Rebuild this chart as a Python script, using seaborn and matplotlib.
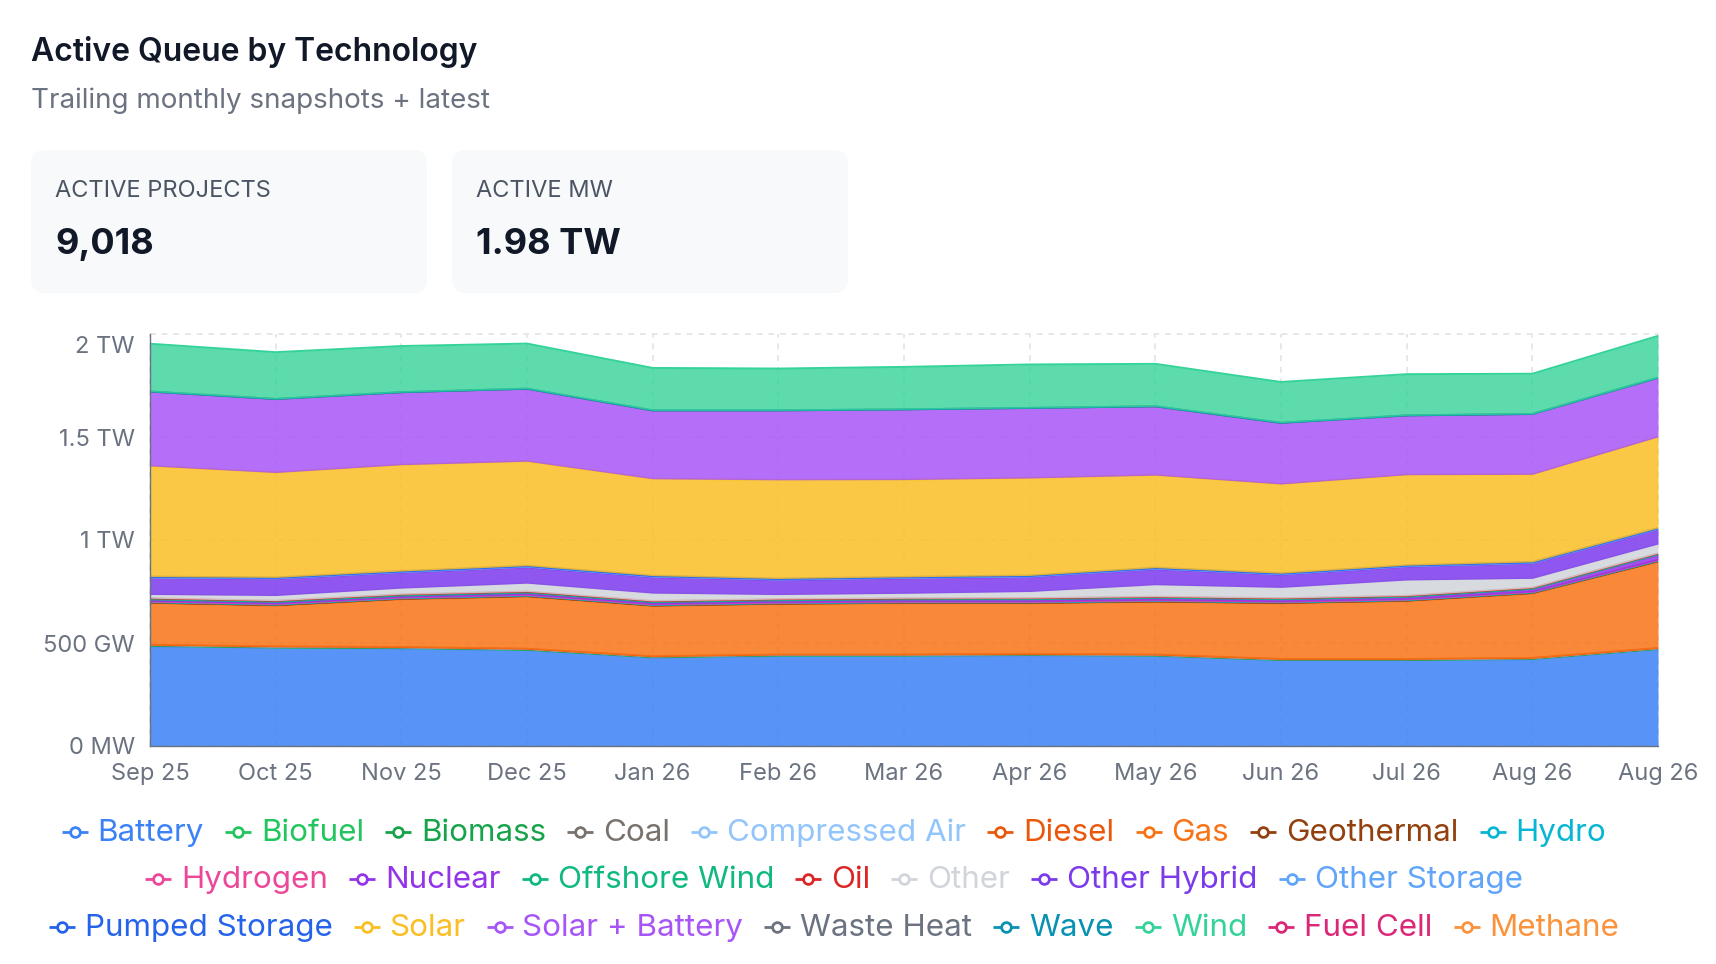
import numpy as np
import pandas as pd
import matplotlib
matplotlib.use("Agg")
import matplotlib.pyplot as plt
import seaborn as sns
import matplotlib.transforms as mtransforms
from matplotlib.patches import FancyBboxPatch
from matplotlib.ticker import FixedLocator, FuncFormatter

# ---------------- data (GW) ----------------
months = ["Sep 25", "Oct 25", "Nov 25", "Dec 25", "Jan 26", "Feb 26", "Mar 26",
          "Apr 26", "May 26", "Jun 26", "Jul 26", "Aug 26", "Aug 26"]

technologies = ["Battery", "Biofuel", "Biomass", "Coal", "Compressed Air", "Diesel",
                "Gas", "Geothermal", "Hydro", "Hydrogen", "Nuclear", "Offshore Wind",
                "Oil", "Other", "Other Hybrid", "Other Storage", "Pumped Storage",
                "Solar", "Solar + Battery", "Waste Heat", "Wave", "Wind",
                "Fuel Cell", "Methane"]

tech_colors = ["#3b82f6", "#22c55e", "#16a34a", "#78716c", "#93c5fd", "#ea580c",
               "#f97316", "#92400e", "#06b6d4", "#ec4899", "#9333ea", "#10b981",
               "#dc2626", "#d1d5db", "#7c3aed", "#60a5fa", "#2563eb",
               "#fbbf24", "#a855f7", "#6b7280", "#0891b2", "#34d399",
               "#db2777", "#fb923c"]

battery        = [485, 477, 474, 466, 430, 438, 438, 441, 438, 417, 417, 422, 470]
biofuel        = [1.2, 1.2, 1.1, 1.1, 1.0, 1.0, 1.0, 1.0, 0.9, 0.9, 0.9, 0.9, 0.9]
biomass        = [2.5, 2.4, 2.4, 2.3, 2.2, 2.2, 2.2, 2.1, 2.1, 2.0, 2.0, 2.0, 2.0]
coal           = [0.6, 0.6, 0.6, 0.6, 0.5, 0.5, 0.5, 0.5, 0.5, 0.5, 0.5, 0.5, 0.5]
compressed_air = [1.5, 1.5, 1.5, 1.5, 1.4, 1.4, 1.4, 1.4, 1.4, 1.4, 1.4, 1.4, 1.4]
diesel         = [0.8, 0.8, 0.8, 0.8, 0.8, 0.8, 0.8, 0.8, 0.8, 0.8, 0.8, 0.8, 0.8]
gas            = [202, 198, 232, 253, 244, 245, 249, 246, 256, 270, 281, 313, 419]
geothermal     = [2.5, 2.5, 2.5, 2.5, 2.4, 2.4, 2.4, 2.4, 2.4, 2.4, 2.4, 2.4, 2.5]
hydro          = [4.0, 4.0, 4.0, 4.0, 3.8, 3.8, 3.8, 3.8, 3.8, 3.8, 3.8, 3.8, 4.0]
hydrogen       = [2.0, 2.0, 2.0, 2.0, 2.0, 2.0, 2.0, 2.0, 2.0, 2.0, 2.0, 2.0, 2.0]
nuclear        = [7, 7, 7, 8, 8, 8, 8, 9, 9, 9, 10, 12, 25]
offshore_wind  = [7.0, 7.0, 7.0, 7.0, 6.5, 6.5, 6.5, 6.5, 6.5, 6.5, 6.5, 6.5, 6.0]
oil            = [1.5, 1.5, 1.5, 1.5, 1.5, 1.5, 1.5, 1.5, 1.5, 1.5, 1.5, 1.5, 1.5]
other          = [18, 25, 30, 40, 38, 22, 24, 32, 58, 52, 76, 45, 45]
other_hybrid   = [80, 81, 76, 78, 78, 71, 73, 71, 76, 62, 65, 73, 71]
other_storage  = [3.0, 3.0, 3.0, 3.0, 3.0, 3.0, 3.0, 3.0, 3.0, 3.0, 3.0, 3.0, 3.0]
pumped_storage = [4.0, 4.0, 4.0, 4.0, 4.0, 4.0, 4.0, 4.0, 4.0, 4.0, 4.0, 4.0, 4.0]
solar          = [537, 509, 516, 507, 470, 479, 472, 473, 449, 433, 439, 425, 442]
solar_battery  = [361, 357, 352, 352, 332, 337, 341, 340, 334, 297, 288, 293, 287]
waste_heat     = [0.1, 0.1, 0.1, 0.1, 0.1, 0.1, 0.1, 0.1, 0.1, 0.1, 0.1, 0.1, 0.1]
wave           = [0.1, 0.1, 0.1, 0.1, 0.1, 0.1, 0.1, 0.1, 0.1, 0.1, 0.1, 0.1, 0.1]
wind           = [232, 227, 224, 219, 206, 203, 206, 211, 206, 198, 200, 195, 203]
fuel_cell      = [0, 0, 0, 0, 0, 0, 0, 0, 0, 0, 0, 0, 0]
methane        = [0, 0, 0, 0, 0, 0, 0, 0, 0, 0, 0, 0, 0]

series = [battery, biofuel, biomass, coal, compressed_air, diesel, gas, geothermal,
          hydro, hydrogen, nuclear, offshore_wind, oil, other, other_hybrid,
          other_storage, pumped_storage, solar, solar_battery, waste_heat, wave,
          wind, fuel_cell, methane]

title_text = "Active Queue by Technology"
subtitle_text = "Trailing monthly snapshots + latest"
kpi_labels = ["ACTIVE PROJECTS", "ACTIVE MW"]
kpi_values = ["9,018", "1.98 TW"]
y_ticks = [0, 500, 1000, 1500, 2000]

df = pd.DataFrame({t: v for t, v in zip(technologies, series)})
df["idx"] = np.arange(len(months))

# ---------------- figure ----------------
sns.set_theme(style="white")
plt.rcParams['font.family'] = ['Inter', 'DejaVu Sans']

W, H = 1716, 964
fig = plt.figure(figsize=(W / 100, H / 100), dpi=100)
fig.patch.set_facecolor("white")

bg = fig.add_axes([0, 0, 1, 1], zorder=0)
bg.set_xlim(0, W)
bg.set_ylim(H, 0)
bg.axis("off")

L, R, T, B = 150, 1658, 334, 746
ax = fig.add_axes([L / W, 1 - B / H, (R - L) / W, (B - T) / H], zorder=1)
ax.set_facecolor("white")

x = df["idx"].to_numpy()
base = np.zeros(len(months))
z = 2
for name, col in zip(technologies, tech_colors):
    vals = df[name].to_numpy(dtype=float)
    top = base + vals
    alpha = 0.8 if name == "Wind" else 0.85
    ax.fill_between(x, base, top, facecolor=col, alpha=alpha, linewidth=0, zorder=z)
    if vals.any():
        sns.lineplot(x=x, y=top, color=col, linewidth=1.4, ax=ax, sort=False,
                     legend=False, zorder=z + 0.5)
    base = top
    z += 1

ax.set_xlim(0, len(months) - 1)
ax.set_ylim(0, 2000)
ax.xaxis.set_major_locator(FixedLocator(x))
ax.set_xticklabels(months)
ax.yaxis.set_major_locator(FixedLocator(y_ticks))


def fmt(v, pos):
    if v == 0:
        return "0 MW"
    if v < 1000:
        return f"{v:.0f} GW"
    return f"{v / 1000:g} TW"


ax.yaxis.set_major_formatter(FuncFormatter(fmt))
ax.set_xlabel("")
ax.set_ylabel("")
ax.set_axisbelow(True)
ax.grid(True, linestyle=(0, (3, 3)), color="#e5e7eb", linewidth=1.4)
for s in ["top", "right"]:
    ax.spines[s].set_visible(False)
for s in ["left", "bottom"]:
    ax.spines[s].set_color("#6b7280")
    ax.spines[s].set_linewidth(1.0)
    ax.spines[s].set_zorder(50)
ax.tick_params(axis="both", length=0, labelsize=17, labelcolor="#6b7280")
ax.tick_params(axis="y", pad=11)
ax.tick_params(axis="x", pad=12)
for gl in ax.get_xgridlines() + ax.get_ygridlines():
    gl.set_clip_on(False)

# nudge the top tick label down like the reference
top_tick = ax.yaxis.get_major_ticks()[-1]
top_tick.label1.set_transform(top_tick.label1.get_transform() +
                              mtransforms.ScaledTranslation(0, -10 / 100, fig.dpi_scale_trans))

# ---------------- header ----------------
bg.text(31, 61, title_text, fontsize=23, fontweight="semibold", color="#111827",
        ha="left", va="baseline")
bg.text(31, 108, subtitle_text, fontsize=20, color="#6b7280", ha="left", va="baseline")

cards_x = [31, 452]
for cx0, lab, val in zip(cards_x, kpi_labels, kpi_values):
    bg.add_patch(FancyBboxPatch((cx0, 150), 396, 143,
                                boxstyle="round,pad=0,rounding_size=14",
                                facecolor="#f8f9fb", edgecolor="none"))
    bg.text(cx0 + 24, 197, lab, fontsize=17, color="#4b5563", ha="left", va="baseline")
    bg.text(cx0 + 24, 254, val, fontsize=26, fontweight="bold", color="#111827",
            ha="left", va="baseline")

# ---------------- legend ----------------
renderer = fig.canvas.get_renderer()
rows = [list(range(0, 9)), list(range(9, 16)), list(range(16, 24))]
row_center_y = [832, 879, 927]
legend_cx = 834
icon_w, icon_gap, item_gap = 26, 10, 21
for ri, idxs in enumerate(rows):
    texts = []
    widths = []
    for i in idxs:
        t = bg.text(0, row_center_y[ri] + 9, technologies[i], fontsize=22.6,
                    color=tech_colors[i], ha="left", va="baseline")
        texts.append(t)
        widths.append(t.get_window_extent(renderer).width)
    row_w = sum(icon_w + icon_gap + w for w in widths) + item_gap * (len(idxs) - 1)
    xpos = legend_cx - row_w / 2
    for i, t, w in zip(idxs, texts, widths):
        yc = row_center_y[ri]
        bg.plot([xpos, xpos + icon_w], [yc, yc], color=tech_colors[i], lw=2.0,
                solid_capstyle="butt")
        bg.plot([xpos + icon_w / 2], [yc], marker="o", ms=7, mfc="white",
                mec=tech_colors[i], mew=2.0)
        t.set_x(xpos + icon_w + icon_gap)
        xpos += icon_w + icon_gap + w + item_gap

fig.savefig("out.png", dpi=100, facecolor="white")
